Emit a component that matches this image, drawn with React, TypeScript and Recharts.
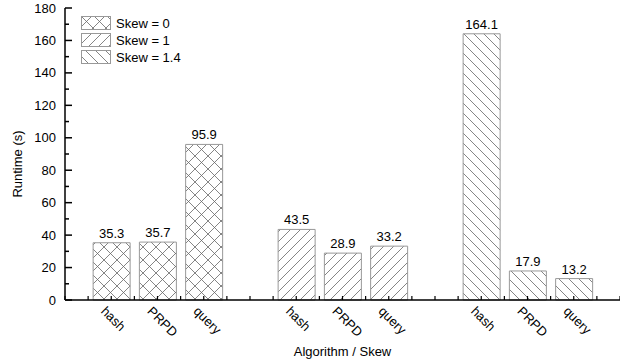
import React from 'react';
import { BarChart, Bar, XAxis, YAxis, Cell, LabelList } from 'recharts';

const algorithms = ['hash', 'PRPD', 'query'];
const skewLabels = ['Skew = 0', 'Skew = 1', 'Skew = 1.4'];
const skew0Runtime = [35.3, 35.7, 95.9];
const skew1Runtime = [43.5, 28.9, 33.2];
const skew14Runtime = [164.1, 17.9, 13.2];
const yTicks = [0, 10, 20, 30, 40, 50, 60, 70, 80, 90, 100, 110, 120, 130, 140, 150, 160, 170, 180];

const patternIds = ['skew0', 'skew1', 'skew14'];
const FONT = '"Liberation Sans", Arial, sans-serif';

// one slot per bar, an empty slot between the groups
const data = [skew0Runtime, skew1Runtime, skew14Runtime].flatMap((values, g) =>
  values.map((runtime, i) => ({ x: g * 4 + i + 1, name: algorithms[i], runtime, group: g }))
);
const nameAt: Record<number, string> = {};
data.forEach(d => { nameAt[d.x] = d.name; });

const xTicks: number[] = [];
for (let t = 0; t <= 12; t += 0.5) xTicks.push(t);

function Patterns() {
  return (
    <svg width={0} height={0} style={{ position: 'absolute' }}>
      <defs>
        <pattern id="skew0" patternUnits="userSpaceOnUse" width={13} height={13}>
          <rect width={13} height={13} fill="#fff" />
          <path d="M0,0 L13,13 M13,0 L0,13" stroke="#666" strokeWidth={0.8} />
        </pattern>
        <pattern id="skew1" patternUnits="userSpaceOnUse" width={10} height={10}>
          <rect width={10} height={10} fill="#fff" />
          <path d="M-1,11 L11,-1 M-1,1 L1,-1 M9,11 L11,9" stroke="#666" strokeWidth={0.8} />
        </pattern>
        <pattern id="skew14" patternUnits="userSpaceOnUse" width={10} height={10}>
          <rect width={10} height={10} fill="#fff" />
          <path d="M-1,-1 L11,11 M9,-1 L11,1 M-1,9 L1,11" stroke="#666" strokeWidth={0.8} />
        </pattern>
      </defs>
    </svg>
  );
}

const YTick = ({ x, y, payload }: any) => {
  const major = payload.value % 20 === 0;
  return (
    <g>
      <line x1={x} x2={x + (major ? 7 : 4)} y1={y} y2={y} stroke="#000" strokeWidth={1.5} />
      {major && (
        <text x={x - 9} y={y} dy={4.5} textAnchor="end" fontSize={13} fontFamily={FONT} fill="#000">
          {payload.value}
        </text>
      )}
    </g>
  );
};

const BottomTick = ({ x, y, payload }: any) => {
  const name = nameAt[payload.value];
  return (
    <g>
      <line x1={x} x2={x} y1={y} y2={y - 4} stroke="#000" strokeWidth={1.2} />
      {name && (
        <g transform={`translate(${x - 11},${y + 12}) rotate(45)`}>
          <text x={0} y={0} textAnchor="start" fontSize={13} fontFamily={FONT} fill="#000">
            {name}
          </text>
        </g>
      )}
    </g>
  );
};

const TopTick = ({ x, y }: any) => (
  <line x1={x} x2={x} y1={y} y2={y + 4} stroke="#000" strokeWidth={1.2} />
);

export default function App() {
  return (
    <div style={{ position: 'absolute', left: 0, top: 0, width: 620, height: 364, fontFamily: FONT }}>
      <Patterns />
      <BarChart width={620} height={364} data={data} margin={{ top: 8, right: 0, bottom: 0, left: 0 }}>
        <XAxis
          dataKey="x"
          type="number"
          domain={[0, 12]}
          ticks={xTicks}
          interval={0}
          height={64}
          tickSize={0}
          tickMargin={0}
          tickLine={false}
          tick={<BottomTick />}
          axisLine={{ stroke: '#000', strokeWidth: 1.5 }}
          label={{ value: 'Algorithm / Skew', position: 'center', dy: 19, fontSize: 13, fill: '#000', fontFamily: FONT }}
        />
        <XAxis
          xAxisId="top"
          orientation="top"
          type="number"
          domain={[0, 12]}
          allowDataOverflow
          ticks={xTicks}
          interval={0}
          height={0}
          tickSize={0}
          tickMargin={0}
          tickLine={false}
          tick={<TopTick />}
          axisLine={{ stroke: '#000', strokeWidth: 1.5 }}
        />
        <YAxis
          type="number"
          domain={[0, 180]}
          ticks={yTicks}
          interval={0}
          width={65}
          tickSize={0}
          tickMargin={0}
          tickLine={false}
          tick={<YTick />}
          axisLine={{ stroke: '#000', strokeWidth: 1.5 }}
          label={{ value: 'Runtime (s)', angle: -90, position: 'center', dx: -15, dy: 10, fontSize: 13, fill: '#000', fontFamily: FONT }}
        />
        <Bar dataKey="runtime" barSize={37} stroke="#999" strokeWidth={1} isAnimationActive={false}>
          {data.map((d, i) => (
            <Cell key={i} fill={`url(#${patternIds[d.group]})`} />
          ))}
          <LabelList
            dataKey="runtime"
            position="top"
            offset={5}
            fontSize={13}
            fill="#000"
            fontFamily={FONT}
            formatter={(v: any) => Number(v).toFixed(1)}
          />
        </Bar>
      </BarChart>
      <div style={{ position: 'absolute', left: 80, top: 15 }}>
        <svg width={160} height={52}>
          {skewLabels.map((label, i) => (
            <g key={label}>
              <rect x={1.5} y={i * 17 + 1.5} width={29} height={13} fill={`url(#${patternIds[i]})`} stroke="#999" />
              <text x={36} y={i * 17 + 13} fontSize={13} fontFamily={FONT} fill="#000">{label}</text>
            </g>
          ))}
        </svg>
      </div>
    </div>
  );
}
